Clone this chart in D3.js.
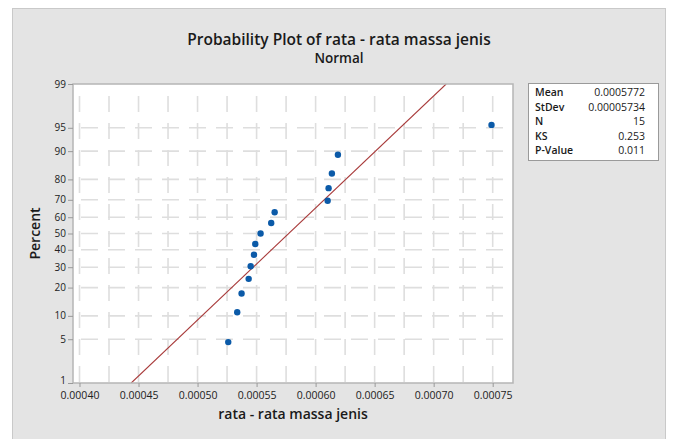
<!DOCTYPE html>
<html><head><meta charset="utf-8">
<script src="https://cdn.jsdelivr.net/npm/d3@7"></script>
<style>body{margin:0;background:#fff;}svg{display:block;font-family:"Open Sans","Noto Sans",sans-serif;}</style>
</head><body>
<script>
// Data
const values = [0.000526, 0.0005336, 0.0005373, 0.0005433, 0.000545, 0.0005478, 0.0005489, 0.0005534,
                0.0005624, 0.0005653, 0.0006102, 0.000611, 0.0006138, 0.0006189, 0.000749];
const percents = [4.55, 11.04, 17.53, 24.03, 30.52, 37.01, 43.51, 50.0, 56.49, 62.99, 69.48, 75.97, 82.47, 88.96, 95.45];
const xTicks = [0.00040, 0.00045, 0.00050, 0.00055, 0.00060, 0.00065, 0.00070, 0.00075];
const xTickLabels = ["0.00040","0.00045","0.00050","0.00055","0.00060","0.00065","0.00070","0.00075"];
const xGrid = [0.0004, 0.000425, 0.00045, 0.000475, 0.0005, 0.000525, 0.00055, 0.000575, 0.0006, 0.000625, 0.00065, 0.000675, 0.0007, 0.000725, 0.00075];
const yTicks = [1, 5, 10, 20, 30, 40, 50, 60, 70, 80, 90, 95, 99];
const statLabels = ["Mean", "StDev", "N", "KS", "P-Value"];
const statValues = ["0.0005772", "0.00005734", "15", "0.253", "0.011"];
const fitMean = [0.0005772];
const fitStDev = [0.00005734];
const fitPercents = [1, 99];

const W = 673, H = 439;
const svg = d3.select("body").append("svg").attr("width", W).attr("height", H);

// panel
svg.append("rect").attr("x", 12.5).attr("y", 8.5).attr("width", 653).attr("height", 440)
  .attr("fill", "#e4e4e4").attr("stroke", "#c9c9c9").attr("stroke-width", 1);

const L = 73, T = 84, R = 513, B = 383;
const x = d3.scaleLinear().domain([0.0003945, 0.0007672]).range([L, R]);
// normal quantile function (inverse CDF) for probability scale
function normInv(p) {
  const a=[-3.969683028665376e+01,2.209460984245205e+02,-2.759285104469687e+02,1.383577518672690e+02,-3.066479806614716e+01,2.506628277459239e+00];
  const b=[-5.447609879822406e+01,1.615858368580409e+02,-1.556989798598866e+02,6.680131188771972e+01,-1.328068155288572e+01];
  const c=[-7.784894002430293e-03,-3.223964580411365e-01,-2.400758277161838e+00,-2.549732539343734e+00,4.374664141464968e+00,2.938163982698783e+00];
  const d=[7.784695709041462e-03,3.224671290700398e-01,2.445134137142996e+00,3.754408661907416e+00];
  const pl=0.02425, ph=1-pl; let q,r;
  if (p<pl){q=Math.sqrt(-2*Math.log(p));return (((((c[0]*q+c[1])*q+c[2])*q+c[3])*q+c[4])*q+c[5])/((((d[0]*q+d[1])*q+d[2])*q+d[3])*q+1);}
  if (p<=ph){q=p-0.5;r=q*q;return (((((a[0]*r+a[1])*r+a[2])*r+a[3])*r+a[4])*r+a[5])*q/(((((b[0]*r+b[1])*r+b[2])*r+b[3])*r+b[4])*r+1);}
  q=Math.sqrt(-2*Math.log(1-p));return -(((((c[0]*q+c[1])*q+c[2])*q+c[3])*q+c[4])*q+c[5])/((((d[0]*q+d[1])*q+d[2])*q+d[3])*q+1);
}
const zScale = d3.scaleLinear().domain([normInv(0.01), normInv(0.99)]).range([B, T]);
const y = p => zScale(normInv(p / 100));

// plot background
svg.append("rect").attr("x", L).attr("y", T).attr("width", R - L).attr("height", B - T).attr("fill", "#fff");

const g = svg.append("g");
// grid
g.selectAll(".vg").data(xGrid).join("line")
  .attr("x1", d => x(d)).attr("x2", d => x(d)).attr("y1", T + 12).attr("y2", B)
  .attr("stroke", "#dedede").attr("stroke-width", 1.6).attr("stroke-dasharray", "16,11");
g.selectAll(".hg").data(yTicks.filter(d => d > 1 && d < 99)).join("line")
  .attr("x1", L + 8).attr("x2", R).attr("y1", d => y(d)).attr("y2", d => y(d))
  .attr("stroke", "#dedede").attr("stroke-width", 1.6).attr("stroke-dasharray", "17,10");

// fit line
const lineData = fitPercents.map(p => ({ v: fitMean[0] + normInv(p / 100) * fitStDev[0], p }));
svg.append("defs").append("clipPath").attr("id", "clip").append("rect")
  .attr("x", L).attr("y", T).attr("width", R - L).attr("height", B - T);
svg.append("path").datum(lineData).attr("clip-path", "url(#clip)")
  .attr("d", d3.line().x(d => x(d.v)).y(d => y(d.p)))
  .attr("fill", "none").attr("stroke", "#a83a3a").attr("stroke-width", 1.1);

// points
svg.selectAll(".pt").data(values).join("circle")
  .attr("cx", d => x(d)).attr("cy", (d, i) => y(percents[i])).attr("r", 3.2)
  .attr("fill", "#0b5aa8");

// frame
svg.append("rect").attr("x", L).attr("y", T).attr("width", R - L).attr("height", B - T)
  .attr("fill", "none").attr("stroke", "#b5b5b5").attr("stroke-width", 1.5);

// x axis
const xAxis = d3.axisBottom(x).tickValues(xTicks).tickFormat((d, i) => xTickLabels[i]).tickSize(4).tickSizeOuter(0);
const gx = svg.append("g").attr("transform", `translate(0,${B})`).call(xAxis);
gx.select(".domain").remove();
gx.selectAll(".tick line").attr("stroke", "#999");
gx.selectAll(".tick text").attr("font-size", 10.5).attr("fill", "#222").attr("dy", "0.85em")
  .attr("font-family", "Open Sans");

// y axis
const yAxisScale = d3.scaleLinear().domain([B, T]).range([B, T]);
const gy = svg.append("g").attr("transform", `translate(${L},0)`)
  .call(d3.axisLeft(yAxisScale).tickValues(yTicks.map(p => y(p))).tickFormat((d, i) => yTicks[i]).tickSize(5).tickSizeOuter(0));
gy.select(".domain").remove();
gy.selectAll(".tick line").attr("stroke", "#999");
gy.selectAll(".tick text").attr("font-size", 10).attr("fill", "#222").attr("x", -7)
  .attr("font-family", "Open Sans").attr("dy", (d, i) => i === 0 ? "0.05em" : "0.3em");

// titles
svg.append("text").attr("x", 339).attr("y", 45).attr("text-anchor", "middle")
  .attr("font-size", 15.5).attr("font-weight", 600).attr("fill", "#1a1a1a").text("Probability Plot of rata - rata massa jenis");
svg.append("text").attr("x", 339).attr("y", 63).attr("text-anchor", "middle")
  .attr("font-size", 13.5).attr("font-weight", 600).attr("fill", "#1a1a1a").text("Normal");
svg.append("text").attr("x", (L + R) / 2).attr("y", 419).attr("text-anchor", "middle")
  .attr("font-size", 14).attr("font-weight", 600).attr("fill", "#1a1a1a").text("rata - rata massa jenis");
svg.append("text").attr("transform", `translate(40,${(T + B) / 2}) rotate(-90)`).attr("text-anchor", "middle")
  .attr("font-size", 14).attr("font-weight", 600).attr("fill", "#1a1a1a").text("Percent");

// stats box
const bx = 528.5, by = 83.5, bw = 130, bh = 77;
svg.append("rect").attr("x", bx).attr("y", by).attr("width", bw).attr("height", bh)
  .attr("fill", "#fff").attr("stroke", "#9a9a9a").attr("stroke-width", 1);
const rows = svg.selectAll(".st").data(statLabels).join("g")
  .attr("transform", (d, i) => `translate(0,${96 + i * 14.5})`);
rows.append("text").attr("x", 535).attr("font-size", 10.5).attr("font-weight", 600).attr("fill", "#1a1a1a").text(d => d);
rows.append("text").attr("x", 645).attr("text-anchor", "end").attr("font-size", 10.5).attr("fill", "#1a1a1a")
  .text((d, i) => statValues[i]);
</script>
</body></html>
